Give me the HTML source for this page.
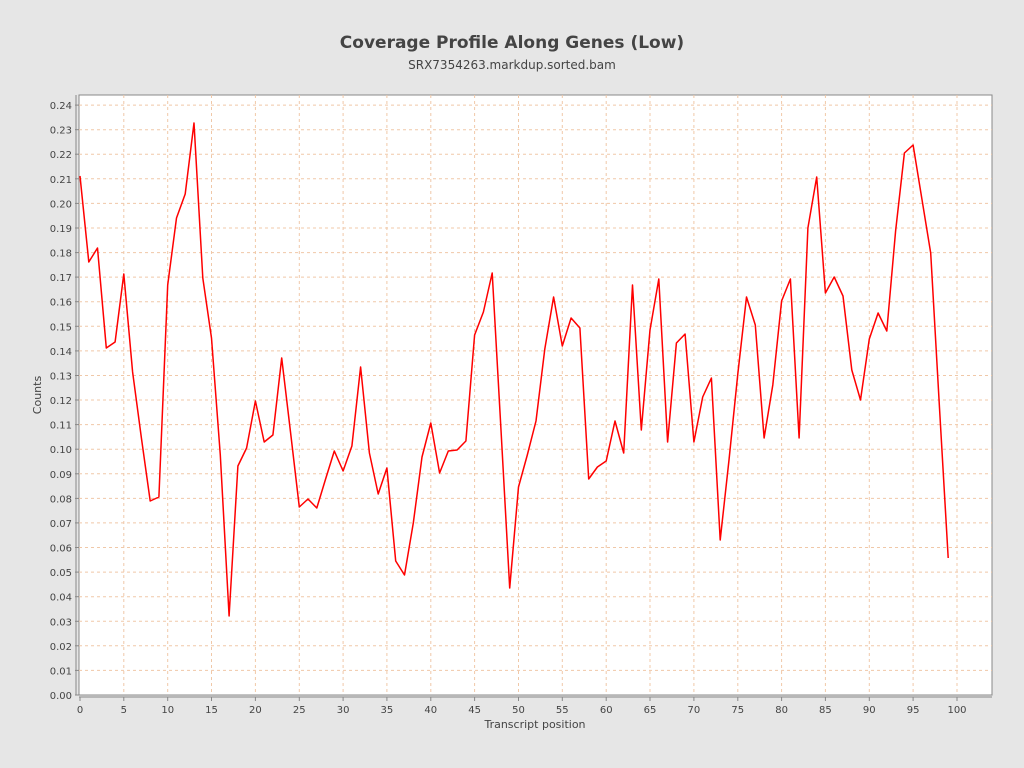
<!DOCTYPE html>
<html><head><meta charset="utf-8"><style>
html,body{margin:0;padding:0;background:#e6e6e6;width:1024px;height:768px;overflow:hidden;font-family:"Liberation Sans","DejaVu Sans",sans-serif}
</style></head><body>
<svg id="s" width="1024" height="768" xmlns="http://www.w3.org/2000/svg" font-family="DejaVu Sans, Liberation Sans, sans-serif">
<rect width="1024" height="768" fill="#e6e6e6"/>
<text x="512" y="48" text-anchor="middle" font-size="17" font-weight="bold" fill="#444">Coverage Profile Along Genes (Low)</text>
<text x="512" y="69" text-anchor="middle" font-size="12" fill="#444">SRX7354263.markdup.sorted.bam</text>
<rect x="79" y="95" width="913" height="600" fill="#fff" stroke="#888" stroke-width="1"/>
<g id="g"></g>
<text x="535" y="728" text-anchor="middle" font-size="11" fill="#444">Transcript position</text>
<text transform="translate(41,395) rotate(-90)" text-anchor="middle" font-size="11" fill="#444">Counts</text>
</svg>
<script>
var g=document.getElementById('g'),h='';
function X(i){return 80+8.77*i}
function Y(v){return 695-v*2458}
for(var k=0;k<=24;k++){var y=Y(k/100).toFixed(1);
 if(k>0)h+='<line x1="79" x2="992" y1="'+y+'" y2="'+y+'" stroke="#f0c8a8" stroke-dasharray="3,3" stroke-width="1"/>';
 h+='<line x1="75" x2="79" y1="'+y+'" y2="'+y+'" stroke="#888"/>';
 h+='<text x="72" y="'+(+y+4)+'" text-anchor="end" font-size="10" fill="#444">'+(k/100).toFixed(2)+'</text>';}
for(var i=0;i<=100;i+=5){var x=X(i).toFixed(1);
 if(i>0)h+='<line y1="95" y2="695" x1="'+x+'" x2="'+x+'" stroke="#f0c8a8" stroke-dasharray="3,3" stroke-width="1"/>';
 h+='<line y1="697" y2="701" x1="'+x+'" x2="'+x+'" stroke="#888"/>';
 h+='<text y="713" x="'+x+'" text-anchor="middle" font-size="10" fill="#444">'+i+'</text>';}
h+='<line x1="79" x2="992" y1="697" y2="697" stroke="#888"/><line x1="76" x2="76" y1="95" y2="695" stroke="#888"/>';
var p=[176,262,248,348,342,274,372,438,501,497,285,218,194,123,278,338,455,616,466,448,401,442,435,358,432,507,499,508,479,451,471,446,367,453,494,468,561,575,523,457,423,473,451,450,441,335,312,273,430,588,487,455,421,349,297,346,318,328,479,467,461,421,453,285,430,330,279,442,343,334,442,397,378,540,460,374,297,325,438,385,301,279,438,228,177,293,277,296,370,400,339,313,331,231,153,145,199,253,408,558];
var pts=p.map(function(y,i){return X(i).toFixed(1)+','+y}).join(' ');
h+='<polyline points="'+pts+'" fill="none" stroke="#f00" stroke-width="1.5" stroke-linejoin="round"/>';
g.innerHTML=h;
</script>
</body></html>
